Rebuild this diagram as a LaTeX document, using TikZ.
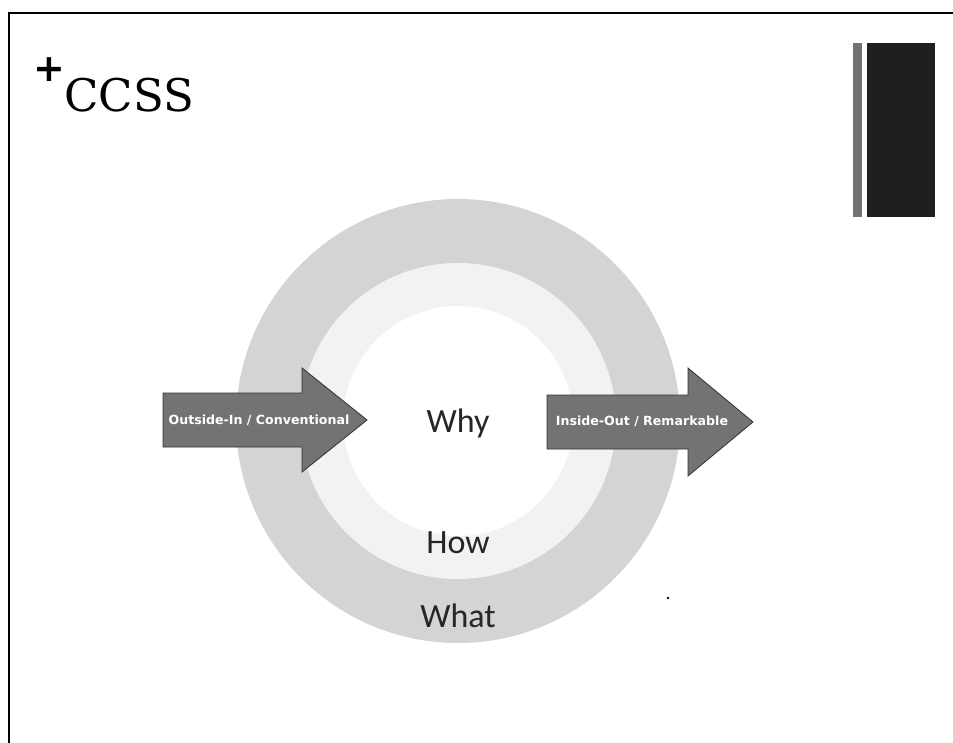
\documentclass[tikz,border=0pt]{standalone}
\usepackage{fontspec}
\setmainfont{DejaVu Serif}
\newfontfamily\labelfont{Carlito}
\newfontfamily\arrowfont{DejaVu Sans}
\newfontfamily\titlefont{DejaVu Serif}

\begin{document}
\begin{tikzpicture}[x=1pt,y=-1pt,
  ring/.style={circle, inner sep=0pt, draw=none},
  word/.style={font=\labelfont\fontsize{34}{34}\selectfont, text=black!85, inner sep=0pt, anchor=base},
  blockarrow/.style={fill=black!55, draw=black!80, line width=0.8pt, line join=miter},
  arrowtext/.style={font=\arrowfont\bfseries\fontsize{12.6}{12.6}\selectfont, text=white, inner sep=0pt},
  frame/.style={line width=2.5pt}]
\useasboundingbox (0,0) rectangle (953,743);

% slide frame (left and top edges)
\coordinate (fbottom) at (9,743);
\coordinate (fcorner) at (9,13);
\coordinate (fright) at (953,13);
\draw[frame] (fbottom) -- (fcorner) -- (fright);

% decorative bars in the top right corner
\fill[black!55] (853,43) rectangle (862,217);
\fill[black!88] (867,43) rectangle (935,217);

% title
\node[font=\arrowfont\bfseries\fontsize{38}{38}\selectfont, inner sep=0pt] (plus) at (49,70) {+};
\node[font=\titlefont\fontsize{45}{45}\selectfont, anchor=base west, inner sep=0pt] (title) at (64,112) {CCSS};

% golden circle
\node[ring, minimum size=444pt, fill=black!17] (outer) at (458,421) {};
\node[ring, minimum size=316pt, fill=black!5] (middle) at (458,421) {};
\node[ring, minimum size=230pt, fill=white] (inner) at (458,421) {};

\node[word] (why) at (458,432) {Why};
\node[word] (how) at (458,553) {How};
\node[word] (what) at (458,627) {What};

% block arrows
\filldraw[blockarrow] (163,393) -- (302,393) -- (302,368) -- (367,420) -- (302,472) -- (302,447) -- (163,447) -- cycle;
\node[arrowtext] (outin) at (259,420) {Outside-In / Conventional};

\filldraw[blockarrow] (547,395) -- (688,395) -- (688,368) -- (753,422) -- (688,476) -- (688,449) -- (547,449) -- cycle;
\node[arrowtext] (inout) at (642,421) {Inside-Out / Remarkable};

% small dot
\fill (668,598) circle (1.3pt);
\end{tikzpicture}
\end{document}
